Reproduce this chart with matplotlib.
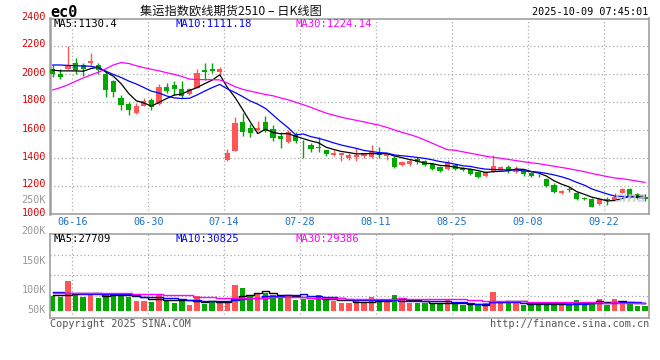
import numpy as np
import pandas as pd
import matplotlib
matplotlib.use('Agg')
import matplotlib.pyplot as plt

# 日K线数据 (2025-06-12 ~ 2025-09-30)
opens = [2040, 2000, 2040, 2082, 2068, 2080, 2070, 2000, 1951, 1833,
         1786, 1721, 1770, 1817, 1789, 1911, 1924, 1895, 1857, 1900,
         2034, 2041, 2017, 1385, 1450, 1660, 1617, 1598, 1657, 1610,
         1557, 1514, 1569, 1510, 1494, 1477, 1459, 1424, 1421, 1400,
         1407, 1412, 1407, 1440, 1412, 1400, 1348, 1360, 1393, 1376,
         1360, 1334, 1325, 1348, 1330, 1322, 1299, 1271, 1299, 1318,
         1334, 1299, 1306, 1295, 1281, 1250, 1207, 1148, 1178, 1152,
         1112, 1105, 1069, 1102, 1100, 1148, 1176, 1140, 1124]
highs = [2068, 2040, 2205, 2120, 2080, 2150, 2078, 2033, 1963, 1852,
         1805, 1793, 1833, 1828, 1930, 1941, 1955, 1950, 1902, 2038,
         2084, 2079, 2055, 1462, 1693, 1721, 1641, 1669, 1700, 1634,
         1586, 1605, 1586, 1530, 1511, 1553, 1459, 1459, 1440, 1435,
         1470, 1440, 1494, 1482, 1440, 1412, 1376, 1393, 1405, 1384,
         1365, 1341, 1388, 1358, 1337, 1329, 1306, 1306, 1423, 1346,
         1353, 1341, 1318, 1302, 1290, 1255, 1219, 1169, 1195, 1160,
         1119, 1112, 1110, 1119, 1148, 1183, 1188, 1148, 1140]
lows = [1981, 1970, 2035, 2005, 1990, 2068, 2000, 1840, 1835, 1746,
        1711, 1718, 1770, 1742, 1782, 1864, 1852, 1833, 1852, 1900,
        1962, 2007, 1993, 1380, 1448, 1560, 1550, 1595, 1588, 1521,
        1471, 1512, 1510, 1400, 1447, 1447, 1412, 1412, 1376, 1388,
        1383, 1400, 1400, 1400, 1390, 1330, 1341, 1341, 1360, 1341,
        1313, 1301, 1318, 1313, 1311, 1278, 1256, 1266, 1299, 1313,
        1294, 1294, 1271, 1267, 1262, 1195, 1148, 1145, 1160, 1100,
        1100, 1048, 1062, 1064, 1095, 1148, 1117, 1105, 1093]
closes = [2000, 1981, 2062, 2028, 2040, 2094, 2033, 1887, 1876, 1777,
          1744, 1770, 1810, 1763, 1911, 1880, 1895, 1845, 1893, 2012,
          2020, 2024, 2036, 1440, 1655, 1590, 1580, 1615, 1591, 1546,
          1540, 1586, 1521, 1505, 1464, 1473, 1428, 1440, 1435, 1424,
          1424, 1435, 1447, 1424, 1435, 1336, 1372, 1383, 1372, 1353,
          1322, 1311, 1365, 1322, 1318, 1287, 1264, 1299, 1346, 1334,
          1306, 1325, 1287, 1271, 1276, 1202, 1155, 1164, 1174, 1107,
          1105, 1052, 1105, 1098, 1124, 1176, 1129, 1112, 1105]
volumes = [55100, 52500, 111400, 58900, 50600, 63800, 48000, 62600, 62600, 62600,
           50600, 36400, 36400, 32300, 60800, 38600, 29300, 43100, 21400, 53600,
           25100, 30800, 30000, 30000, 96400, 86300, 55500, 62600, 64900, 58900,
           49100, 58900, 40100, 45000, 40100, 58900, 42400, 36800, 28100, 27400,
           36400, 27400, 49900, 40100, 36400, 58900, 40100, 27400, 30000, 27400,
           27400, 27400, 40100, 23600, 21400, 21400, 21400, 27400, 71300, 27400,
           27400, 27400, 21400, 21400, 31100, 21400, 26300, 21400, 31100, 40100,
           25100, 32600, 43900, 21400, 43900, 36400, 23600, 17600, 17600]

# 均线起始段 (窗口之前的数据不在图中, 按图读取)
ma5_head = [2030, 2025, 2025, 2025]
ma10_head = [2067, 2067, 2064, 2062, 2060, 2058, 2048, 2022, 1999]
ma30_head = [1888, 1905, 1925, 1950, 1974, 1995, 2015, 2040, 2068, 2084,
             2078, 2062, 2048, 2036, 2025, 2012, 2000, 1985, 1966, 1963,
             1962, 1962, 1960, 1938, 1912, 1893, 1880, 1868, 1856]
vma5_head = [58000, 58000, 60000, 61000]
vma10_head = [69000, 69000, 68000, 66000, 64000, 62000, 61000, 61000, 62000]
vma30_head = [65000] * 11 + [61000] * 4 + [57500] * 4 + [53000] * 3 + [49000] * 7

date_labels = ['06-16', '06-30', '07-14', '07-28', '08-11', '08-25', '09-08', '09-22']
date_index = [2, 12, 22, 32, 42, 52, 62, 72]
price_ticks = [2200, 2000, 1800, 1600, 1400, 1200]
price_labels = [2400, 2200, 2000, 1800, 1600, 1400, 1200, 1000]
vol_labels = ['250K', '200K', '150K', '100K', '50K']

RED = '#ff5555'
GREEN = '#00a800'
MONO = 'DejaVu Sans Mono'
CJK = ['Noto Sans CJK SC', 'DejaVu Sans']


def moving_avg(values, n, head):
    s = pd.Series(values, dtype=float).rolling(n).mean()
    s.iloc[:n - 1] = head
    return s.values


W, H = 660, 360
fig = plt.figure(figsize=(6.6, 3.6), dpi=100)
fig.patch.set_facecolor('white')


def px_axes(l, t, r, b):
    return fig.add_axes([l / W, 1 - b / H, (r - l) / W, (b - t) / H])


def ftext(x, y, s, **kw):
    fig.text(x / W, 1 - y / H, s, **kw)


x = np.arange(len(closes))
o = np.array(opens, float)
c = np.array(closes, float)
up = c >= o
colors = np.where(up, RED, GREEN)
grid_x = np.array(date_index) + 0.58
xlim = (-0.36, 78.56)

# 主图: K线
ax = px_axes(50, 18.5, 649.3, 214)
ax.set_xlim(*xlim)
ax.set_ylim(1000, 2400)
ax.vlines(x, lows, highs, colors=colors, lw=1, zorder=2)
body_lo = np.minimum(o, c)
body_h = np.maximum(np.abs(c - o), 6)
ax.bar(x, body_h, bottom=body_lo, width=0.68, color=colors, lw=0, zorder=3)

ax.plot(x, moving_avg(closes, 5, ma5_head), color='black', lw=0.9, zorder=4)
ax.plot(x, moving_avg(closes, 10, ma10_head), color='#0000ff', lw=0.9, zorder=4)
ax.plot(x, moving_avg(closes, 30, ma30_head), color='#ff00ff', lw=0.9, zorder=4)

for yv in price_ticks:
    ax.axhline(yv, color='#aaaaaa', lw=0.9, ls=(0, (1, 2)), zorder=1)
for gx in grid_x:
    ax.axvline(gx, color='#aaaaaa', lw=0.9, ls=(0, (1, 2)), zorder=1)
ax.set_xticks([])
ax.set_yticks([])
for s in ax.spines.values():
    s.set_color('#a0a0a0')
    s.set_linewidth(1.2)
ax.spines['left'].set_linewidth(1.8)

for p in price_labels:
    ftext(46, 214 - (p - 1000) * 0.14 - 1.5, str(p), ha='right', va='center',
          color='#e00000', family=MONO, fontsize=7.3)
for gx, lab in zip(grid_x, date_labels):
    ftext(52.7 + gx * 7.594, 221.7, lab, ha='center', va='center',
          color='#1a73c9', family=MONO, fontsize=7.3)

# 成交量
axv = px_axes(50, 234.3, 649.3, 318.3)
axv.set_xlim(*xlim)
axv.set_ylim(-28500, 286500)
axv.bar(x, volumes, width=0.72, color=colors, lw=0, zorder=2)
axv.plot(x, moving_avg(volumes, 5, vma5_head), color='black', lw=1, drawstyle='steps-mid', zorder=3)
axv.plot(x, moving_avg(volumes, 10, vma10_head), color='#0000ff', lw=1, drawstyle='steps-mid', zorder=3)
axv.plot(x, moving_avg(volumes, 30, vma30_head), color='#ff00ff', lw=1, drawstyle='steps-mid', zorder=3)
for yv in [208900, 133900, 55100]:
    axv.axhline(yv, color='#aaaaaa', lw=0.9, ls=(0, (1, 2)), zorder=1)
for gx in grid_x:
    axv.axvline(gx, color='#aaaaaa', lw=0.9, ls=(0, (1, 2)), zorder=1)
axv.set_xticks([])
axv.set_yticks([])
for s in axv.spines.values():
    s.set_color('#a0a0a0')
    s.set_linewidth(1.2)

for yy, lab in zip([200, 231, 261, 290, 310], vol_labels):
    ftext(46, yy, lab, ha='right', va='center', color='#999999', family=MONO, fontsize=7.3)

# 文字
ftext(50, 12.5, 'ec0', ha='left', va='center', family=MONO, fontweight='bold',
      fontsize=11)
ftext(140, 11, '集运指数欧线期货2510 – 日K线图', ha='left', va='center',
      family=CJK, fontsize=8.8, color='#111111')
ftext(648, 12, '2025-10-09 07:45:01', ha='right', va='center', family=MONO,
      fontsize=7.3, color='black')
ftext(53, 24, 'MA5:1130.4', ha='left', va='center', family=MONO, fontsize=7.6, color='black')
ftext(175, 24, 'MA10:1111.18', ha='left', va='center', family=MONO, fontsize=7.6, color='#0000ff')
ftext(295, 24, 'MA30:1224.14', ha='left', va='center', family=MONO, fontsize=7.6, color='#ff00ff')
ftext(54, 238.5, 'MA5:27709', ha='left', va='center', family=MONO, fontsize=7.6, color='black')
ftext(175, 238.5, 'MA10:30825', ha='left', va='center', family=MONO, fontsize=7.6, color='#0000ff')
ftext(295, 238.5, 'MA30:29386', ha='left', va='center', family=MONO, fontsize=7.6, color='#ff00ff')
ftext(50, 324, 'Copyright 2025 SINA.COM', ha='left', va='center', family=MONO,
      fontsize=7.3, color='#555555')
ftext(649, 324, 'http://finance.sina.com.cn', ha='right', va='center', family=MONO,
      fontsize=7.3, color='#555555')
ftext(647, 198, 'sina', ha='right', va='center', fontsize=10, fontweight='bold',
      style='italic', color='#cccccc', alpha=0.8)

fig.savefig('out.png', dpi=100)
